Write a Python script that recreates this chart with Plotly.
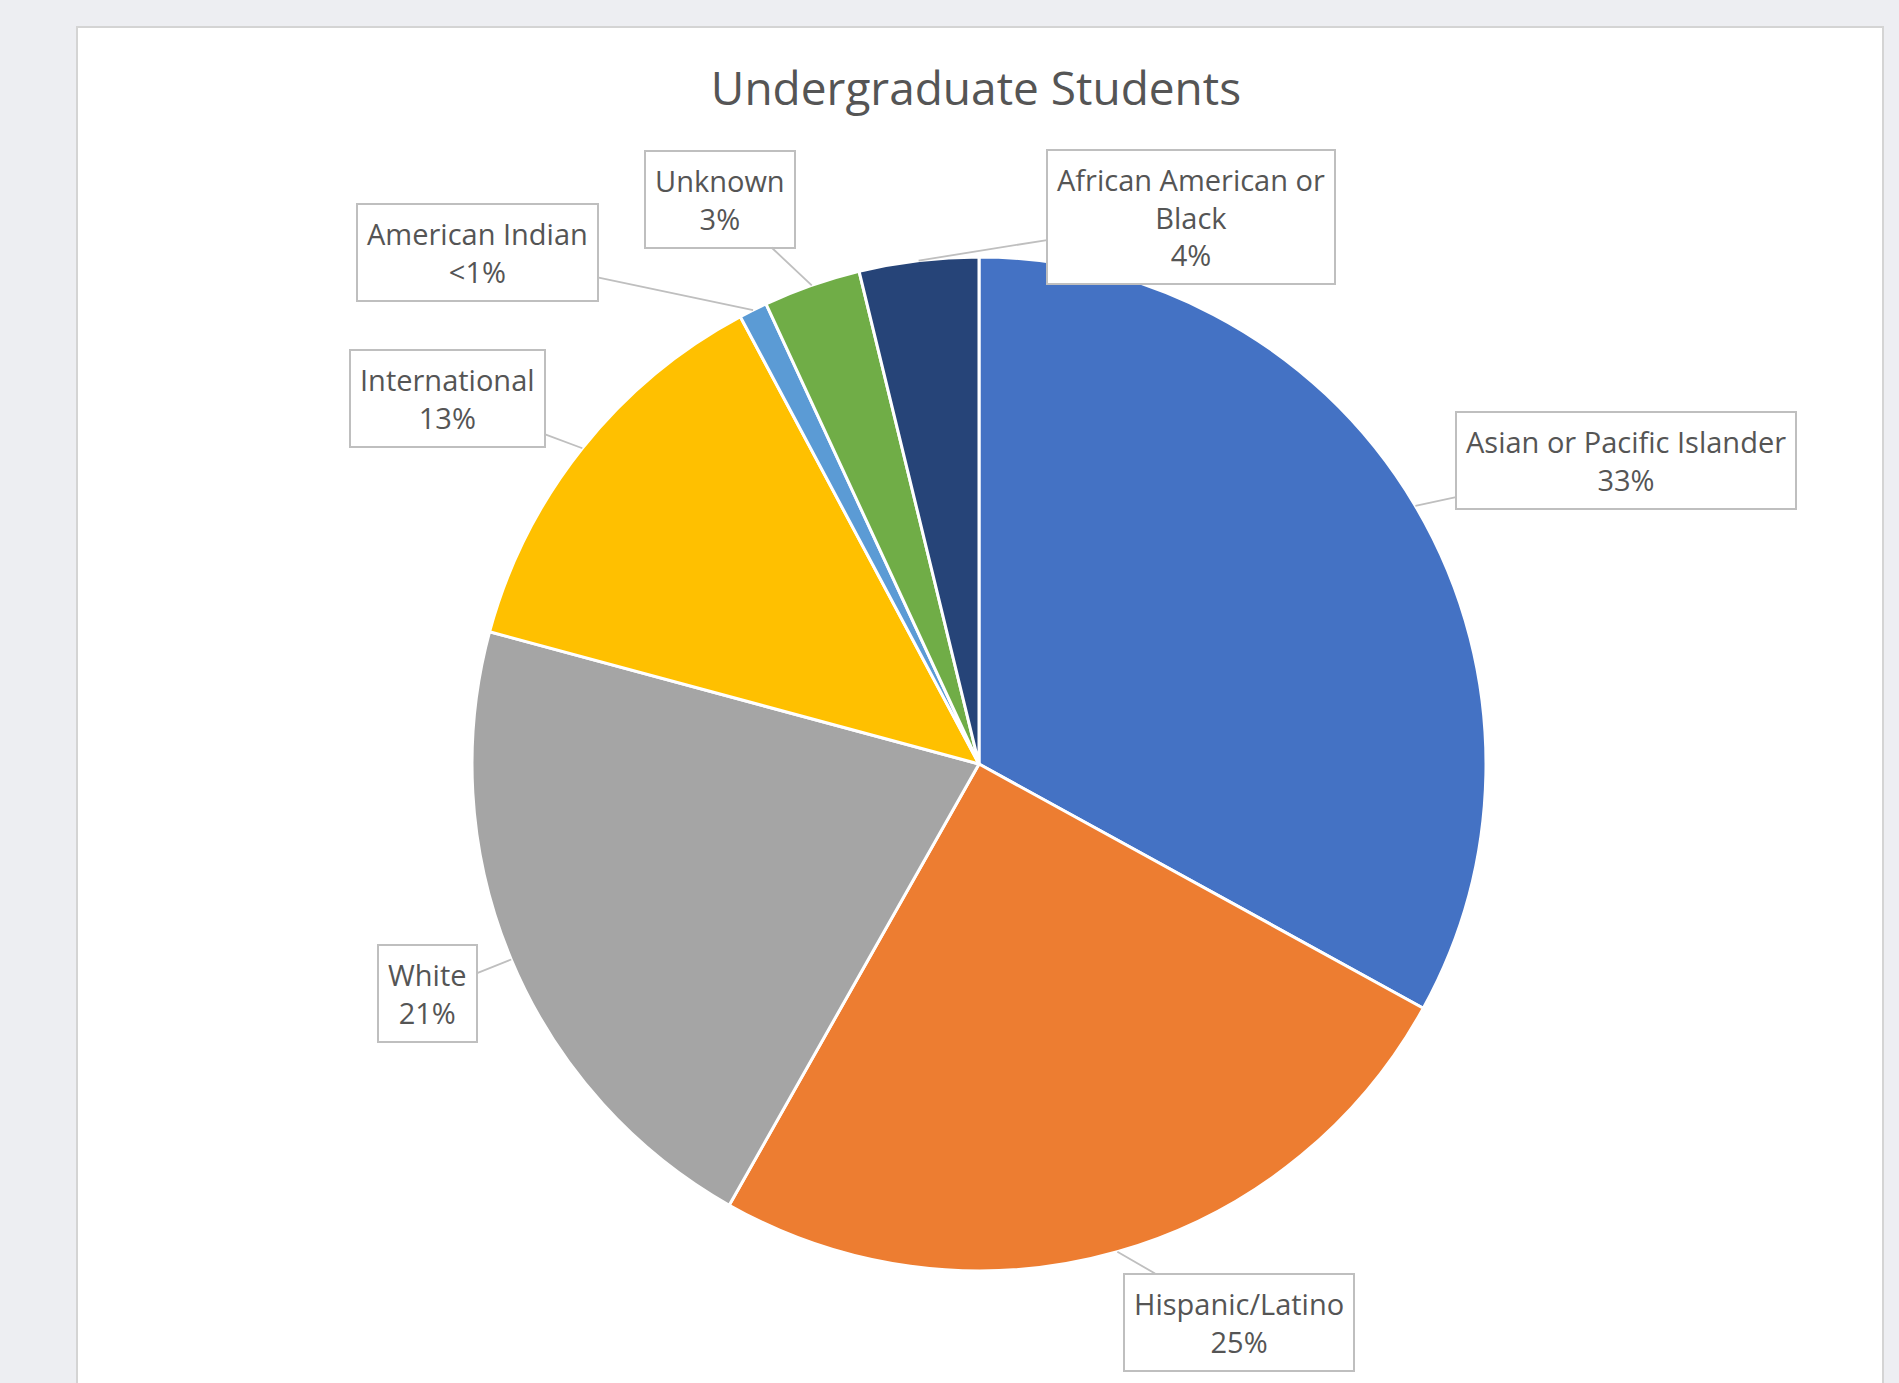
import math
import plotly.graph_objects as go

# ---- data ----
categories = ["Asian or Pacific Islander", "Hispanic/Latino", "White", "International",
              "American Indian", "Unknown", "African American or<br>Black"]
values = [33.0, 25.2, 21.0, 13.0, 0.9, 3.1, 3.8]
pct_labels = ["33%", "25%", "21%", "13%", "<1%", "3%", "4%"]
colors = ["#4472C4", "#ED7D31", "#A5A5A5", "#FFC000", "#5B9BD5", "#70AD47", "#264478"]

# ---- layout constants (pixels) ----
W, H = 1899, 1383
CX, CY, R = 979, 764, 507
# callout box centres (pixels, y down)
label_centres = [(1626, 460), (1239, 1322), (427, 993), (447, 398),
                 (477, 252), (720, 199), (1191, 217)]

fig = go.Figure()
fig.add_trace(go.Pie(
    labels=categories,
    values=values,
    sort=False,
    direction="clockwise",
    rotation=0,
    marker=dict(colors=colors, line=dict(color="white", width=3)),
    textinfo="none",
    textposition="none",
    showlegend=False,
    domain=dict(x=[(CX - R) / W, (CX + R) / W], y=[(H - CY - R) / H, (H - CY + R) / H]),
))

# callouts pointing at slice mid-angles
total = sum(values)
cum = 0.0
annotations = []
for cat, v, pl, (bx, by) in zip(categories, values, pct_labels, label_centres):
    mid = (cum + v / 2) / total * 2 * math.pi
    cum += v
    tx = CX + R * math.sin(mid)
    ty = CY - R * math.cos(mid)
    annotations.append(dict(
        x=tx / W, y=1 - ty / H, xref="paper", yref="paper",
        ax=bx - tx, ay=by - ty, axref="pixel", ayref="pixel",
        text=f"{cat}<br>{pl}", showarrow=True, arrowhead=0, arrowwidth=1.8,
        arrowcolor="#bfbfbf", standoff=0, startstandoff=0,
        bgcolor="white", bordercolor="#bfbfbf", borderwidth=2, borderpad=9,
        font=dict(family="Open Sans", size=29, color="#555555"), align="center",
    ))

fig.update_layout(
    width=W, height=H,
    margin=dict(l=0, r=0, t=0, b=0),
    paper_bgcolor="#edeef2",
    plot_bgcolor="#edeef2",
    title=dict(text="Undergraduate Students", x=976 / W, xanchor="center",
               y=1 - 89 / H, yanchor="middle",
               font=dict(family="Open Sans", size=46, color="#555555")),
    shapes=[dict(type="rect", xref="paper", yref="paper", x0=77 / W, x1=1883 / W,
                 y0=-0.02, y1=1 - 27 / H, fillcolor="white",
                 line=dict(color="#d4d4d4", width=2), layer="below")],
    annotations=annotations,
)

fig.write_html("out.html")
